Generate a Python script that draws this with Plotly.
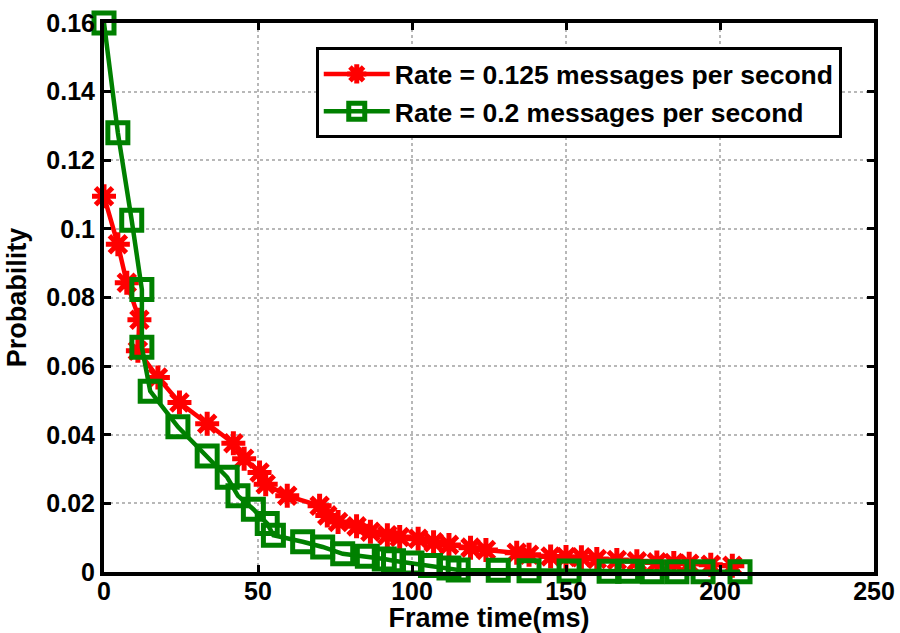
import plotly.graph_objects as go

# Frame time (ms) and probability for each message rate
rate_low_x = [0, 4.5, 7.4, 11.5, 11.0, 17.5, 24.5, 33.5, 42, 45.5, 50.5, 52.5, 59.5, 70, 72.5,
              76, 82, 86.5, 92, 96, 102, 107, 112, 119, 124, 134, 138, 145, 150, 155,
              160, 166.5, 173, 179.5, 185, 190, 197, 204]
rate_low_y = [0.1095, 0.0955, 0.0843, 0.0735, 0.0645, 0.0567, 0.0494, 0.0432, 0.0375, 0.0330,
              0.0290, 0.0256, 0.0222, 0.0193, 0.0165, 0.0146, 0.0133, 0.0117, 0.0107, 0.0102,
              0.0097, 0.0087, 0.0079, 0.0071, 0.0064, 0.0056, 0.0050, 0.0045, 0.0044, 0.0043,
              0.0038, 0.0035, 0.0031, 0.0028, 0.0026, 0.0024, 0.0021, 0.0018]

rate_high_x = [0, 4.5, 9, 12.3, 12.3, 15, 24, 33.5, 40, 43.5, 48.5, 53, 55, 64.5, 71, 77.5,
               85.5, 91, 94, 100, 106, 112, 115, 128, 138, 151, 164, 170, 178, 186, 194.5, 206.5]
rate_high_y = [0.16, 0.128, 0.1025, 0.0823, 0.0655, 0.0527, 0.0423, 0.0338, 0.0276, 0.0222,
               0.0183, 0.0141, 0.0107, 0.0088, 0.0073, 0.0053, 0.0046, 0.0038, 0.0033, 0.0026,
               0.0019, 0.0012, 0.0006, 0.0005, 0.0004, 0.0003, 0.0002, 0.0002, 0.0001, 0.0001,
               0.0001, 0.0001]

x_ticks = [0, 50, 100, 150, 200, 250]
y_ticks = [0, 0.02, 0.04, 0.06, 0.08, 0.1, 0.12, 0.14, 0.16]
y_tick_text = ["0", "0.02", "0.04", "0.06", "0.08", "0.1", "0.12", "0.14", "0.16"]

FONT = "Liberation Sans, Arial, sans-serif"
RED = "rgb(255,0,0)"
GREEN = "rgb(0,128,0)"

fig = go.Figure()
fig.add_trace(go.Scatter(
    x=rate_low_x, y=rate_low_y, mode="lines+markers",
    name="Rate = 0.125 messages per second",
    line=dict(color=RED, width=4.5),
    marker=dict(symbol="asterisk", size=20, color=RED, line=dict(color=RED, width=5)),
    cliponaxis=False,
))
fig.add_trace(go.Scatter(
    x=rate_high_x, y=rate_high_y, mode="lines+markers",
    name="Rate = 0.2 messages per second",
    line=dict(color=GREEN, width=4.5),
    marker=dict(symbol="square-open", size=20, color=GREEN, line=dict(color=GREEN, width=5)),
    cliponaxis=False,
))

axis_common = dict(
    showline=True, linecolor="black", linewidth=4, mirror="ticks",
    ticks="inside", ticklen=7, tickwidth=3, tickcolor="black",
    showgrid=True, gridcolor="#b8b8b8", gridwidth=1.5, griddash="dot",
    zeroline=False, automargin=False,
    tickfont=dict(family=FONT, size=25, color="black", weight="bold"),
)

fig.update_xaxes(
    range=[0, 250], tickvals=x_ticks, ticklabelstandoff=-6,
    title=dict(text="Frame time(ms)", standoff=14,
               font=dict(family=FONT, size=27, color="black", weight="bold")),
    **axis_common,
)
fig.update_yaxes(
    range=[0, 0.16], tickvals=y_ticks, ticktext=y_tick_text,
    title=dict(text="Probability", standoff=13,
               font=dict(family=FONT, size=27, color="black", weight="bold")),
    **axis_common,
)

fig.update_layout(
    width=900, height=633,
    margin=dict(l=104, r=26, t=23, b=61),
    plot_bgcolor="white", paper_bgcolor="white",
    showlegend=True,
    legend=dict(
        x=0.275, y=0.956, xanchor="left", yanchor="top",
        bgcolor="white", bordercolor="black", borderwidth=3,
        font=dict(family=FONT, size=26.5, color="black", weight="bold"),
        itemwidth=66,
    ),
)

fig.write_html("out.html")
